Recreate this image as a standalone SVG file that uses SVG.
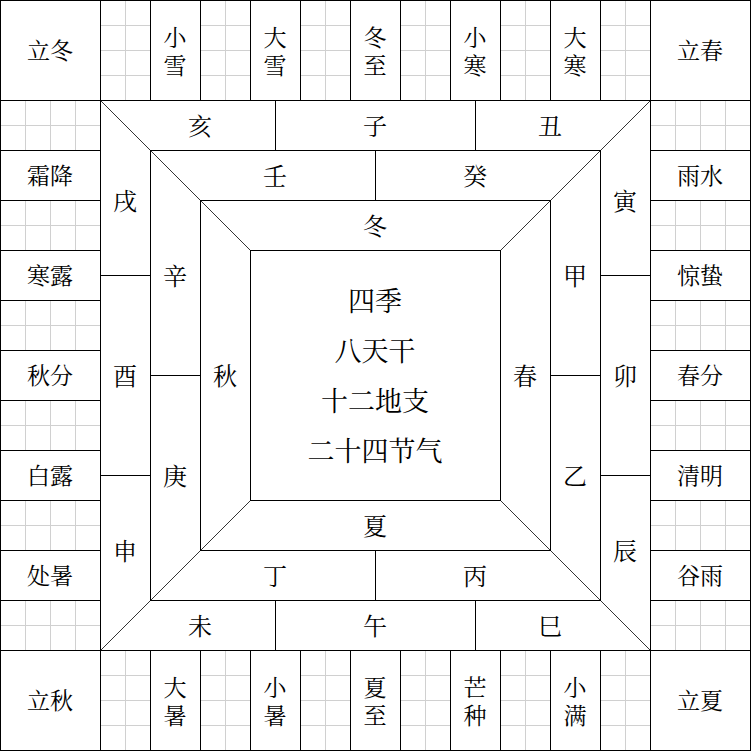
<svg xmlns="http://www.w3.org/2000/svg" width="751" height="751" viewBox="0 0 751 751">
<style>
.bg{fill:#ffffff}
.ln{stroke:#000;stroke-width:1;fill:none}
.dg{stroke:#000;stroke-width:0.8;fill:none}
.gr{stroke:#d0d0d0;stroke-width:1;fill:none}
text{font-family:"Noto Serif CJK SC","Noto Sans CJK SC",serif;fill:#000;text-anchor:middle;dominant-baseline:central}
.o{font-size:23px}
.v{font-size:23px;writing-mode:vertical-rl;letter-spacing:5px}
.r{font-size:24px}
.c{font-size:27px}
</style>
<defs>
<path id="gv" class="gr" d="M25,0V100M0,25H50M0,50H50M0,75H50"/>
<path id="gh" class="gr" d="M25,0V50M50,0V50M75,0V50M0,25H100"/>
</defs>
<rect class="bg" x="0" y="0" width="751" height="751"/>
<g id="grid-cells">
<use href="#gv" x="100.5" y="0.5"/><use href="#gv" x="200.5" y="0.5"/><use href="#gv" x="300.5" y="0.5"/><use href="#gv" x="400.5" y="0.5"/><use href="#gv" x="500.5" y="0.5"/><use href="#gv" x="600.5" y="0.5"/>
<use href="#gv" x="100.5" y="650.5"/><use href="#gv" x="200.5" y="650.5"/><use href="#gv" x="300.5" y="650.5"/><use href="#gv" x="400.5" y="650.5"/><use href="#gv" x="500.5" y="650.5"/><use href="#gv" x="600.5" y="650.5"/>
<use href="#gh" x="0.5" y="100.5"/><use href="#gh" x="0.5" y="200.5"/><use href="#gh" x="0.5" y="300.5"/><use href="#gh" x="0.5" y="400.5"/><use href="#gh" x="0.5" y="500.5"/><use href="#gh" x="0.5" y="600.5"/>
<use href="#gh" x="650.5" y="100.5"/><use href="#gh" x="650.5" y="200.5"/><use href="#gh" x="650.5" y="300.5"/><use href="#gh" x="650.5" y="400.5"/><use href="#gh" x="650.5" y="500.5"/><use href="#gh" x="650.5" y="600.5"/>
</g>
<g id="connectors">
<rect class="ln" x="0.5" y="0.5" width="750" height="750"/>
<path class="ln" d="M100.5,0.5V750.5M650.5,0.5V750.5M0.5,100.5H750.5M0.5,650.5H750.5"/>
<path class="ln" d="M150.5,0.5V100.5M200.5,0.5V100.5M250.5,0.5V100.5M300.5,0.5V100.5M350.5,0.5V100.5M400.5,0.5V100.5M450.5,0.5V100.5M500.5,0.5V100.5M550.5,0.5V100.5M600.5,0.5V100.5"/>
<path class="ln" d="M150.5,650.5V750.5M200.5,650.5V750.5M250.5,650.5V750.5M300.5,650.5V750.5M350.5,650.5V750.5M400.5,650.5V750.5M450.5,650.5V750.5M500.5,650.5V750.5M550.5,650.5V750.5M600.5,650.5V750.5"/>
<path class="ln" d="M0.5,150.5H100.5M0.5,200.5H100.5M0.5,250.5H100.5M0.5,300.5H100.5M0.5,350.5H100.5M0.5,400.5H100.5M0.5,450.5H100.5M0.5,500.5H100.5M0.5,550.5H100.5M0.5,600.5H100.5"/>
<path class="ln" d="M650.5,150.5H750.5M650.5,200.5H750.5M650.5,250.5H750.5M650.5,300.5H750.5M650.5,350.5H750.5M650.5,400.5H750.5M650.5,450.5H750.5M650.5,500.5H750.5M650.5,550.5H750.5M650.5,600.5H750.5"/>
<rect class="ln" x="150.5" y="150.5" width="450" height="450"/>
<rect class="ln" x="200.5" y="200.5" width="350" height="350"/>
<rect class="ln" x="250.5" y="250.5" width="250" height="250"/>
<path class="dg" d="M100.5,100.5L250.5,250.5M650.5,100.5L500.5,250.5M100.5,650.5L250.5,500.5M650.5,650.5L500.5,500.5"/>
<path class="ln" d="M275.5,100.5V150.5M475.5,100.5V150.5M275.5,600.5V650.5M475.5,600.5V650.5M100.5,275.5H150.5M100.5,475.5H150.5M600.5,275.5H650.5M600.5,475.5H650.5"/>
<path class="ln" d="M375.5,150.5V200.5M375.5,550.5V600.5M150.5,375.5H200.5M550.5,375.5H600.5"/>
</g>
<g id="labels" transform="translate(0,-2.5)">
<g id="corner-nodes">
<g id="n-lidong"><text class="o" x="50" y="52">立冬</text></g>
<g id="n-lichun"><text class="o" x="700" y="52">立春</text></g>
<g id="n-liqiu"><text class="o" x="50" y="702">立秋</text></g>
<g id="n-lixia"><text class="o" x="700" y="702">立夏</text></g>
</g>
<g id="top-nodes">
<g id="n-xiaoxue"><text class="v" x="175" y="56">小雪</text></g>
<g id="n-daxue"><text class="v" x="275" y="56">大雪</text></g>
<g id="n-dongzhi"><text class="v" x="375" y="56">冬至</text></g>
<g id="n-xiaohan"><text class="v" x="475" y="56">小寒</text></g>
<g id="n-dahan"><text class="v" x="575" y="56">大寒</text></g>
</g>
<g id="bottom-nodes">
<g id="n-dashu"><text class="v" x="175" y="706">大暑</text></g>
<g id="n-xiaoshu"><text class="v" x="275" y="706">小暑</text></g>
<g id="n-xiazhi"><text class="v" x="375" y="706">夏至</text></g>
<g id="n-mangzhong"><text class="v" x="475" y="706">芒种</text></g>
<g id="n-xiaoman"><text class="v" x="575" y="706">小满</text></g>
</g>
<g id="left-nodes">
<g id="n-shuangjiang"><text class="o" x="50" y="177">霜降</text></g>
<g id="n-hanlu"><text class="o" x="50" y="277">寒露</text></g>
<g id="n-qiufen"><text class="o" x="50" y="377">秋分</text></g>
<g id="n-bailu"><text class="o" x="50" y="477">白露</text></g>
<g id="n-chushu"><text class="o" x="50" y="577">处暑</text></g>
</g>
<g id="right-nodes">
<g id="n-yushui"><text class="o" x="700" y="177">雨水</text></g>
<g id="n-jingzhe"><text class="o" x="700" y="277">惊蛰</text></g>
<g id="n-chunfen"><text class="o" x="700" y="377">春分</text></g>
<g id="n-qingming"><text class="o" x="700" y="477">清明</text></g>
<g id="n-guyu"><text class="o" x="700" y="577">谷雨</text></g>
</g>
<g id="branches">
<g id="n-hai"><text class="r" x="200" y="127">亥</text></g>
<g id="n-zi"><text class="r" x="375" y="127">子</text></g>
<g id="n-chou"><text class="r" x="550" y="127">丑</text></g>
<g id="n-wei"><text class="r" x="200" y="627">未</text></g>
<g id="n-wu"><text class="r" x="375" y="627">午</text></g>
<g id="n-si"><text class="r" x="550" y="627">巳</text></g>
<g id="n-xu"><text class="r" x="125" y="202">戌</text></g>
<g id="n-you"><text class="r" x="125" y="377">酉</text></g>
<g id="n-shen"><text class="r" x="125" y="552">申</text></g>
<g id="n-yin"><text class="r" x="625" y="202">寅</text></g>
<g id="n-mao"><text class="r" x="625" y="377">卯</text></g>
<g id="n-chen"><text class="r" x="625" y="552">辰</text></g>
</g>
<g id="stems">
<g id="n-ren"><text class="r" x="275" y="177">壬</text></g>
<g id="n-gui"><text class="r" x="475" y="177">癸</text></g>
<g id="n-ding"><text class="r" x="275" y="577">丁</text></g>
<g id="n-bing"><text class="r" x="475" y="577">丙</text></g>
<g id="n-xin"><text class="r" x="175" y="277">辛</text></g>
<g id="n-geng"><text class="r" x="175" y="477">庚</text></g>
<g id="n-jia"><text class="r" x="575" y="277">甲</text></g>
<g id="n-yi"><text class="r" x="575" y="477">乙</text></g>
</g>
<g id="seasons">
<g id="n-dong"><text class="r" x="375" y="227">冬</text></g>
<g id="n-xia"><text class="r" x="375" y="527">夏</text></g>
<g id="n-qiu"><text class="r" x="225" y="377">秋</text></g>
<g id="n-chun"><text class="r" x="525" y="377">春</text></g>
</g>
<g id="center">
<text class="c" x="375" y="302">四季</text>
<text class="c" x="375" y="352">八天干</text>
<text class="c" x="375" y="402">十二地支</text>
<text class="c" x="375" y="452">二十四节气</text>
</g>
</g>
</svg>
